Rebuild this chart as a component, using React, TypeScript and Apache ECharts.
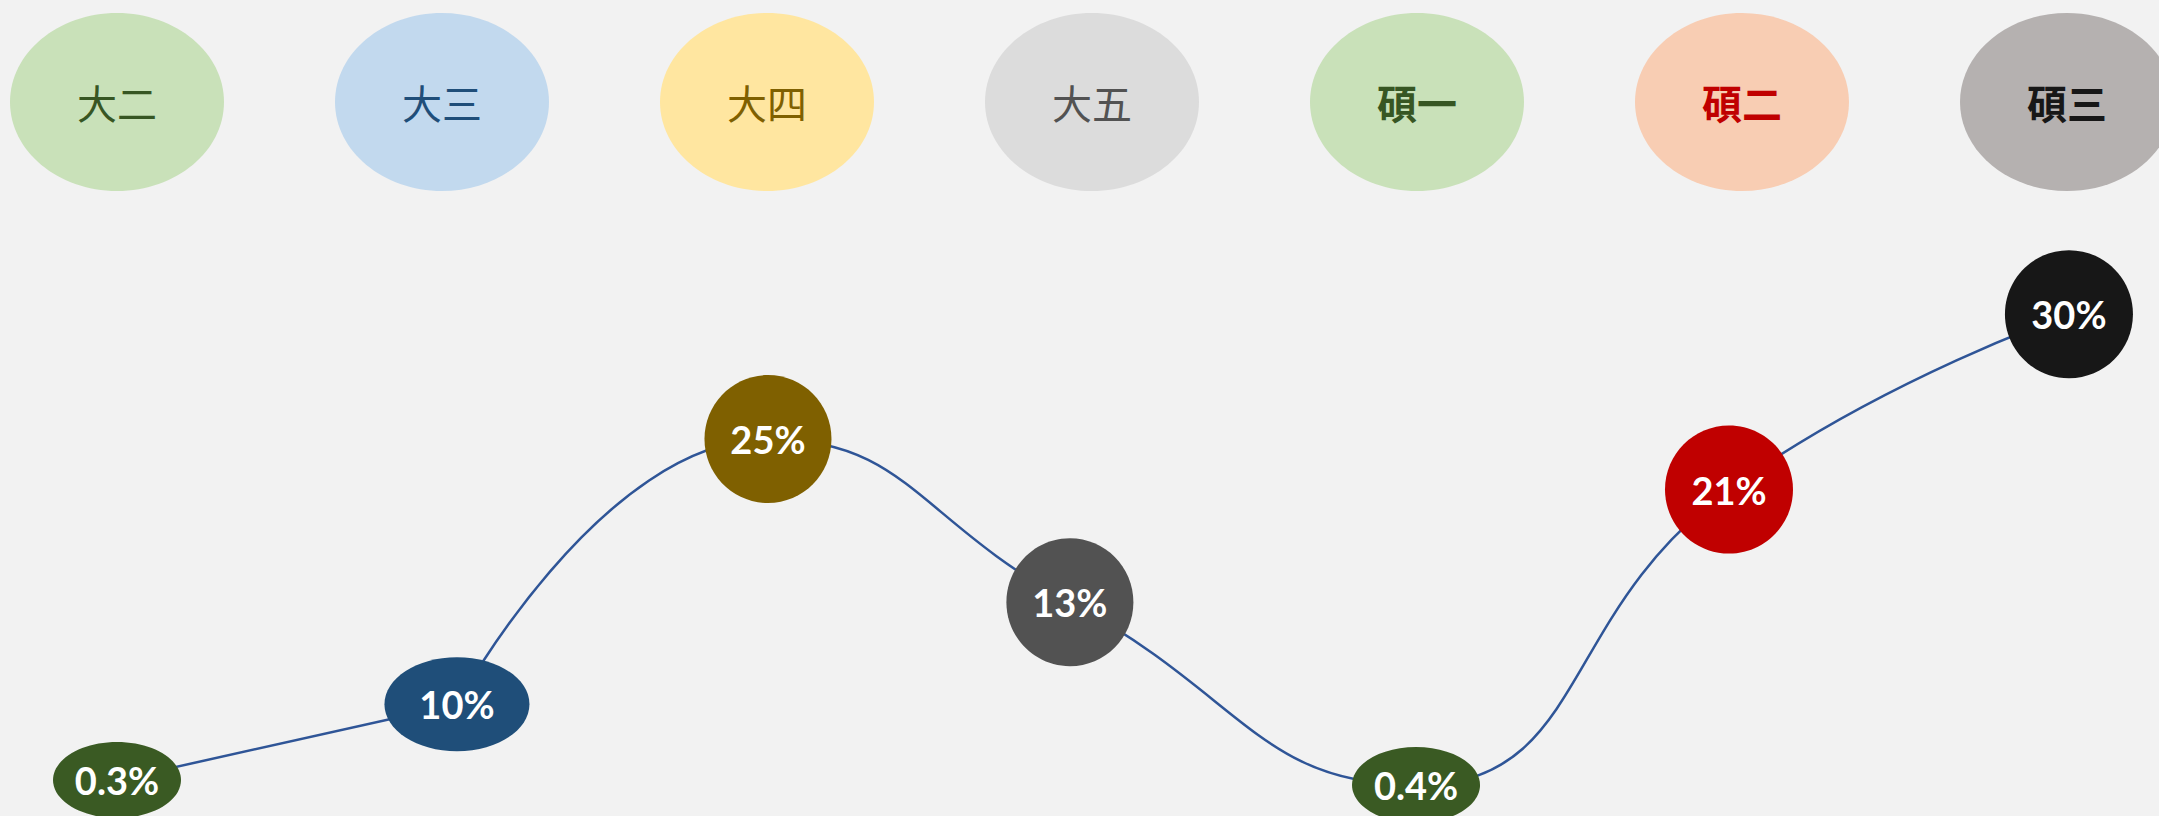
import React, { useEffect, useRef } from "react";
import * as echarts from "echarts";

// Stage names (top row)
const stages = ["大二", "大三", "大四", "大五", "碩一", "碩二", "碩三"];
const stageFill = ["#C9E1B9", "#C2D9EE", "#FFE6A0", "#DCDCDC", "#C9E1B9", "#F8CDB3", "#B5B1B0"];
const stageText = ["#375623", "#1F4E79", "#7F6000", "#525252", "#375623", "#C00000", "#171717"];
const stageLevel = 87.5;

// Shares shown in the markers
const shares = ["0.3%", "10%", "25%", "13%", "0.4%", "21%", "30%"];
// Horizontal position of each marker (stage index units)
const markerX = [0, 1.046, 2.003, 2.932, 3.997, 4.96, 6.006];
// Vertical level of each marker (0–100 scale)
const markerLevel = [4.4, 13.7, 46.2, 26.2, 3.8, 40.0, 61.5];
const markerColor = ["#3A5A23", "#1F4E79", "#7F6000", "#525252", "#3A5A23", "#C00000", "#171717"];
const markerSize = [
  [128, 76],
  [145, 94],
  [127, 128],
  [127, 128],
  [128, 76],
  [128, 128],
  [128, 128],
];

const ELLIPSE =
  "path://M50,0 C77.6,0 100,22.4 100,50 C100,77.6 77.6,100 50,100 C22.4,100 0,77.6 0,50 C0,22.4 22.4,0 50,0 Z";

const points = markerX.map((x, i) => [x, markerLevel[i]]);
const lineStyle = { color: "#2F5597", width: 2.5 };

export default function App() {
  const ref = useRef<HTMLDivElement>(null);
  useEffect(() => {
    document.body.style.margin = "0";
    const chart = echarts.init(ref.current!, null, { renderer: "svg" });
    chart.setOption({
      animation: false,
      backgroundColor: "#F2F2F2",
      grid: { left: 0, right: 0, top: 0, bottom: 0 },
      xAxis: { type: "value", min: -0.36, max: 6.2831, show: false },
      yAxis: { type: "value", min: 0, max: 100, show: false },
      series: [
        {
          type: "scatter",
          z: 1,
          symbol: ELLIPSE,
          symbolSize: [214, 178],
          silent: true,
          itemStyle: { opacity: 1 },
          data: stages.map((s, i) => ({
            value: [i, stageLevel],
            name: s,
            itemStyle: { color: stageFill[i], opacity: 1 },
            label: {
              show: true,
              position: "inside",
              formatter: s,
              color: stageText[i],
              fontSize: 40,
              fontWeight: s.startsWith("碩") ? "bold" : "normal",
              fontFamily: "Noto Sans CJK TC",
            },
          })),
        },
        {
          type: "line",
          z: 2,
          smooth: false,
          showSymbol: false,
          symbol: "none",
          silent: true,
          lineStyle,
          data: points.slice(0, 2),
        },
        {
          type: "line",
          z: 2,
          smooth: 0.5,
          showSymbol: false,
          symbol: "none",
          silent: true,
          lineStyle,
          data: points.slice(1),
        },
        {
          type: "scatter",
          z: 3,
          symbol: ELLIPSE,
          silent: true,
          itemStyle: { opacity: 1 },
          data: shares.map((s, i) => ({
            value: [markerX[i], markerLevel[i]],
            symbolSize: markerSize[i],
            itemStyle: { color: markerColor[i], opacity: 1 },
            label: {
              show: true,
              position: "inside",
              formatter: s,
              color: "#FFFFFF",
              fontSize: 38,
              fontWeight: "bold",
              fontFamily: "Lato",
            },
          })),
        },
      ],
    });
    return () => chart.dispose();
  }, []);
  return (
    <div
      ref={ref}
      style={{ position: "absolute", left: 0, top: 0, width: 2159, height: 816 }}
    />
  );
}
